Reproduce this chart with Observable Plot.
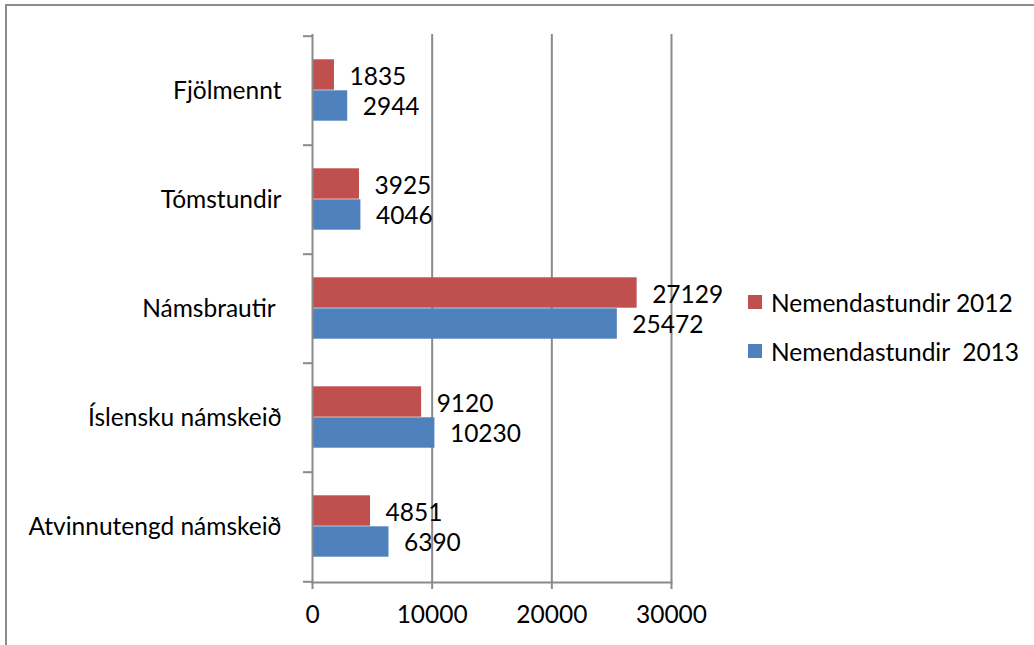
<!DOCTYPE html>
<html>
<head>
<meta charset="utf-8">
<script src="https://cdn.jsdelivr.net/npm/d3@7"></script>
<script src="https://cdn.jsdelivr.net/npm/@observablehq/plot@0.6"></script>
<style>
  html, body { margin: 0; padding: 0; background: #fff; }
  #wrap { position: relative; width: 1034px; height: 645px; overflow: hidden; font-family: Lato, "Open Sans", sans-serif; }
  #border { position: absolute; left: 5px; top: 4px; width: 2000px; height: 2000px; border-top: 2px solid #8c8c8c; border-left: 2px solid #8c8c8c; }
  #chart { position: absolute; left: 0; top: 0; }
  .legend { position: absolute; left: 748px; top: 0; font-size: 24.5px; color: #000; white-space: pre; }
  .legend .item { position: absolute; left: 0; display: flex; align-items: center; height: 30px; }
  .legend .sw { width: 14px; height: 14px; margin-right: 9px; }
</style>
</head>
<body>
<div id="wrap">
  <div id="border"></div>
  <div id="chart"></div>
  <div class="legend" id="legend"></div>
</div>
<script>
const categories = ["Fjölmennt", "Tómstundir", "Námsbrautir\u00a0", "Íslensku námskeið", "Atvinnutengd námskeið"];
const seriesNames = ["Nemendastundir 2012", "Nemendastundir  2013"];
const values2012 = [1835, 3925, 27129, 9120, 4851];
const values2013 = [2944, 4046, 25472, 10230, 6390];
const xTicks = [0, 10000, 20000, 30000];
const seriesColors = ["#C0504D", "#4F81BD"];

const rows2012 = categories.map((c, i) => ({cat: c, series: seriesNames[0], value: values2012[i]}));
const rows2013 = categories.map((c, i) => ({cat: c, series: seriesNames[1], value: values2013[i]}));

const gray = "#8a8a8a";
const fs = 24.5;
const band = (582 - 34) / categories.length;

const chart = Plot.plot({
  width: 1034,
  height: 645,
  marginLeft: 312,
  marginRight: 363,
  marginTop: 34,
  marginBottom: 63,
  style: {background: "transparent", fontFamily: "Lato, 'Open Sans', sans-serif", fontSize: fs + "px", color: "#000"},
  x: {domain: [0, 30000], label: null},
  y: {domain: categories, padding: 0, label: null},
  color: {domain: seriesNames, range: seriesColors},
  marks: [
    Plot.gridX(xTicks.slice(1), {stroke: gray, strokeOpacity: 1, strokeWidth: 2}),
    Plot.barX(rows2012, {x: "value", y: "cat", fill: "series", insetTop: 23.3, insetBottom: band - 23.3 - 31}),
    Plot.barX(rows2013, {x: "value", y: "cat", fill: "series", insetTop: 54.3, insetBottom: band - 54.3 - 31}),
    Plot.ruleX([0], {stroke: gray, strokeWidth: 2}),
    Plot.frame({anchor: "bottom", stroke: gray, strokeWidth: 2}),
    Plot.axisY({tickSize: 0, tickPadding: 31, fontSize: fs, fill: "#000", label: null}),
    Plot.axisY({tickSize: 9, fill: "none", stroke: gray, strokeWidth: 2, dy: -band / 2, label: null}),
    Plot.axisY([categories[categories.length - 1]], {tickSize: 9, fill: "none", stroke: gray, strokeWidth: 2, dy: band / 2, label: null}),
    Plot.axisX({ticks: xTicks, tickSize: 7, tickPadding: 16, stroke: gray, strokeWidth: 2, fontSize: fs, fill: "#000", tickFormat: d => String(d), label: null}),
    Plot.text(rows2012, {x: "value", y: "cat", text: d => String(d.value), textAnchor: "start", dx: 15, dy: -14, fontSize: fs, fill: "#000"}),
    Plot.text(rows2013, {x: "value", y: "cat", text: d => String(d.value), textAnchor: "start", dx: 15, dy: 16, fontSize: fs, fill: "#000"})
  ]
});
document.getElementById("chart").appendChild(chart);

const legend = document.getElementById("legend");
const legendTops = [287, 336];
seriesNames.forEach((s, i) => {
  const item = document.createElement("div");
  item.className = "item";
  item.style.top = legendTops[i] + "px";
  const sw = document.createElement("span");
  sw.className = "sw";
  sw.style.background = seriesColors[i];
  const t = document.createElement("span");
  t.textContent = s;
  item.appendChild(sw);
  item.appendChild(t);
  legend.appendChild(item);
});
</script>
</body>
</html>
